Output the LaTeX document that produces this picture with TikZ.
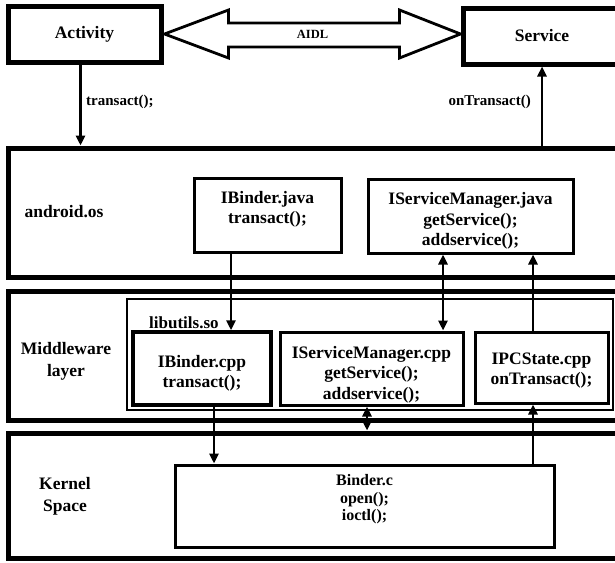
\documentclass[tikz,border=0pt]{standalone}
\usepackage{fontspec}
\setmainfont{Liberation Serif}
\usetikzlibrary{arrows.meta,calc}
\begin{document}
\begin{tikzpicture}[x=1pt,y=-1pt,
  every node/.style={font=\bfseries},
  % rectangle spanning (#1,#2) to (#3,#4)
  span/.style n args={4}{at={({(#1+#3)/2},{(#2+#4)/2})},
    minimum width={#3-#1}, minimum height={#4-#2}},
  layer/.style={draw, line width=5pt, inner sep=0pt},
  outerbox/.style={draw, line width=5pt, inner sep=0pt, font=\fontsize{17.5}{20}\selectfont\bfseries},
  unit/.style={draw, line width=3pt, inner sep=0pt, align=center, font=\fontsize{17.5}{20.5}\selectfont\bfseries},
  libbox/.style={draw, line width=1.6pt, inner sep=0pt},
  lbl/.style={inner sep=0pt, align=center, font=\fontsize{17.5}{22}\selectfont\bfseries},
  call/.style={inner sep=0pt, font=\fontsize{15}{18}\selectfont\bfseries},
  arr/.style={line width=2.5pt, -{Triangle[length=10pt,width=9pt]}},
  biarr/.style={line width=2.5pt, {Triangle[length=10pt,width=9pt]}-{Triangle[length=10pt,width=9pt]}},
  aidlshape/.style={draw, line width=2.8pt, line join=miter}
]
\useasboundingbox (0,0) rectangle (615,562);
\clip (0,0) rectangle (615,562);

% application level
\node[outerbox, span={8}{6}{161}{62}] (activity) {Activity};
\node[outerbox, span={463}{8}{621}{64}] (service) {Service};

% AIDL double arrow between the two components
\coordinate (aidlL) at ($(activity.east)+(1,0)$);
\coordinate (aidlR) at (service.west |- aidlL);
\draw[aidlshape] (aidlL) -- ($(aidlL)+(64,-24)$) -- ($(aidlL)+(64,-11)$)
  -- ($(aidlR)+(-61,-11)$) -- ($(aidlR)+(-61,-24)$) -- (aidlR)
  -- ($(aidlR)+(-61,24)$) -- ($(aidlR)+(-61,13)$)
  -- ($(aidlL)+(64,13)$) -- ($(aidlL)+(64,24)$) -- cycle;
\node[font=\fontsize{12.5}{14}\selectfont\bfseries] (aidltxt) at ($(aidlL)!0.5!(aidlR)$) {AIDL};

% layers
\node[layer, span={8}{148}{640}{277}] (android) {};
\node[layer, span={8}{291}{640}{420}] (middleware) {};
\node[layer, span={8}{433}{640}{558}] (kernel) {};

\node[lbl] (androidlbl) at (64,212) {android.os};
\node[lbl] (mwlbl) at (66,361) {Middleware\\layer};
\node[lbl] (kslbl) at (65,496) {Kernel\\Space};

% android.os classes
\node[unit, text depth=15pt, span={194}{178}{341}{252}] (ibjava) {IBinder.java\\transact();};
\node[unit, text height=63pt, span={368}{179}{573}{253}] (smjava) {IServiceManager.java\\getService();\\addservice();};

% native library
\node[libbox, span={127}{299}{613}{410}] (libutils) {};
\node[inner sep=0pt, anchor=west, font=\fontsize{17}{20}\selectfont\bfseries] (liblbl) at (149,323) {libutils.so};
\node[unit, line width=3.5pt, text height=42.5pt, span={133}{332}{271}{405}] (ibcpp) {IBinder.cpp\\transact();};
\node[unit, text height=65pt, span={280}{332}{463}{405}] (smcpp) {IServiceManager.cpp\\getService();\\addservice();};
\node[unit, text height=38.5pt, span={475}{332}{608}{403}] (ipc) {IPCState.cpp\\onTransact();};

% kernel driver
\node[unit, text depth=17pt, font=\fontsize{16}{17.5}\selectfont\bfseries, span={175}{465}{554}{547}] (binder) {Binder.c\\open();\\ioctl();};

% columns of the vertical calls
\coordinate (actout) at ([xshift=-4pt]activity.south);
\coordinate (colA) at (231,0);
\coordinate (colB) at (443,0);
\coordinate (colC) at (533,0);
\coordinate (colD) at (214,0);
\coordinate (colE) at (367,0);

\draw[arr] (actout) -- (actout |- android.north);
\node[call, anchor=west] (tlbl) at (86,102) {transact();};
\draw[arr] (android.north -| service.south) -- (service.south);
\node[call, anchor=east] (otlbl) at (531,102) {onTransact()};

\draw[arr] (ibjava.south -| colA) -- (ibcpp.north -| colA);
\draw[biarr] (smjava.south -| colB) -- (smcpp.north -| colB);
\draw[arr] (ipc.north -| colC) -- (smjava.south -| colC);

\draw[arr] (ibcpp.south -| colD) -- (binder.north -| colD);
\draw[biarr] (smcpp.south -| colE) -- (kernel.north -| colE);
\draw[arr] (binder.north -| colC) -- (ipc.south -| colC);
\end{tikzpicture}
\end{document}
